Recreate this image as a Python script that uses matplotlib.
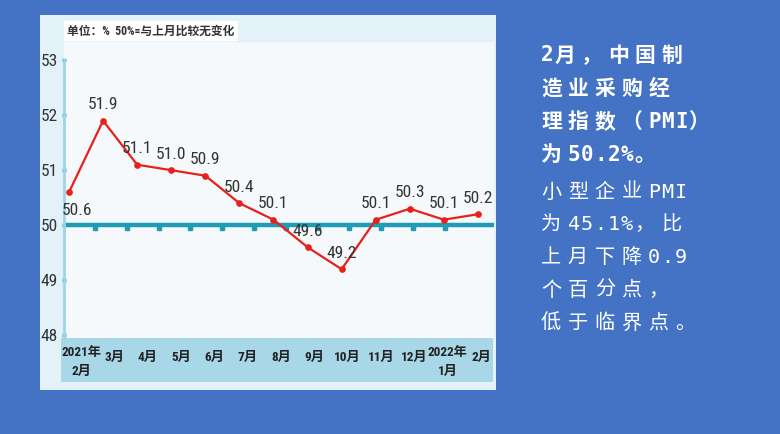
import numpy as np
import matplotlib
matplotlib.use("Agg")
import matplotlib.pyplot as plt
from matplotlib.patches import Rectangle

months = ["2021年\n2月", "3月", "4月", "5月", "6月", "7月", "8月", "9月",
          "10月", "11月", "12月", "2022年\n1月", "2月"]
pmi = [50.6, 51.9, 51.1, 51.0, 50.9, 50.4, 50.1, 49.6, 49.2, 50.1, 50.3, 50.1, 50.2]
yticks = [48, 49, 50, 51, 52, 53]
note = "单位：%  50%=与上月比较无变化"
para1 = ["2月，中国制", "造业采购经", "理指数（PMI）", "为50.2%。"]
para2 = ["小型企业PMI", "为45.1%，比", "上月下降0.9", "个百分点，", "低于临界点。"]

W, H = 780, 434
def fx(px):
    return px / W
def fy(py):
    return 1 - py / H

cjk = ["Noto Sans CJK SC", "DejaVu Sans"]
num_font = ["Roboto Condensed", "DejaVu Sans"]
label_font = ["Roboto Condensed", "Noto Sans CJK SC", "DejaVu Sans"]

fig = plt.figure(figsize=(7.8, 4.34), dpi=100)
fig.patch.set_facecolor("#4472c4")

# light panel behind chart
fig.patches.append(Rectangle((fx(40), fy(390)), fx(456), 375 / H,
                             transform=fig.transFigure, facecolor="#e3f1f8",
                             edgecolor="none", zorder=-2))
# x label band
fig.patches.append(Rectangle((fx(61), fy(382)), fx(432), 44 / H,
                             transform=fig.transFigure, facecolor="#a8d8e7",
                             edgecolor="none", zorder=-1))

ax = fig.add_axes([fx(64), fy(338), fx(430), 296 / H])
ax.set_zorder(1)
ax.set_facecolor("#f6f9fc")
x = np.arange(len(pmi))
ax.set_xlim(-0.147, 12.47)
ax.set_ylim(47.95, 53.33)

# 50 reference line with little dashes below
ax.axhline(50, color="#1f9bb4", lw=3.2, zorder=2)
ax.plot(np.linspace(0.76, 11.03, 12), [49.95] * 12, ls="none", marker="s",
        ms=3, color="#1f9bb4", zorder=2)

ax.plot(x, pmi, color="#e8201c", lw=1.6, marker="o", ms=3.8, zorder=3)

for i, v in enumerate(pmi):
    off = (8, -18) if i == 0 else (0, 16)
    ax.annotate(f"{v:.1f}", (i, v), xytext=off, textcoords="offset pixels",
                ha="center", va="center", fontsize=12.5, color="#333333",
                family=num_font, zorder=4)

for s in ["top", "right", "bottom"]:
    ax.spines[s].set_visible(False)
ax.spines["left"].set_color("#9fd3e6")
ax.spines["left"].set_linewidth(2)
ax.spines["left"].set_bounds(47.95, 53)
ax.set_yticks(yticks)
ax.set_yticklabels([str(t) for t in yticks], family=num_font, fontsize=12.5,
                   color="#333333")
ax.tick_params(axis="y", length=3, width=2.5, color="#29b6d6", pad=3, direction="inout")
ax.set_xticks([])

# month labels in the band (spread slightly differently from the points)
for i, m in enumerate(months):
    dy = -24 if "\n" in m else -19
    ax.annotate(m, (i, 47.95), xytext=(12 - 0.75 * i, dy), textcoords="offset pixels",
                ha="center", va="center", fontsize=9.5, fontweight="bold",
                color="#222222", family=label_font, linespacing=1.6,
                annotation_clip=False)

# note at top
fig.text(fx(67), fy(31), note, fontsize=8.5, fontweight="bold", color="#333333",
         family=label_font, va="center", ha="left",
         bbox=dict(facecolor="white", edgecolor="none", pad=2.5))


# right-hand text, placed char by char on a fixed grid (wide spacing)
def grid_line(s, x0, y0, size, weight):
    xpos = x0
    for ch in s:
        half = ord(ch) < 128
        fam = ["DejaVu Sans Mono"] if half else cjk
        fig.text(fx(xpos), fy(y0), ch, fontsize=size, fontweight=weight,
                 color="white", family=fam, va="center", ha="left")
        xpos += 13.3 if half else 26.8


for k, line in enumerate(para1):
    grid_line(line, 541, 55 + k * 33.3, 15, "bold")
for k, line in enumerate(para2):
    grid_line(line, 541, 192 + k * 32.8, 14.5, "normal")

fig.savefig("out.png", dpi=100)
